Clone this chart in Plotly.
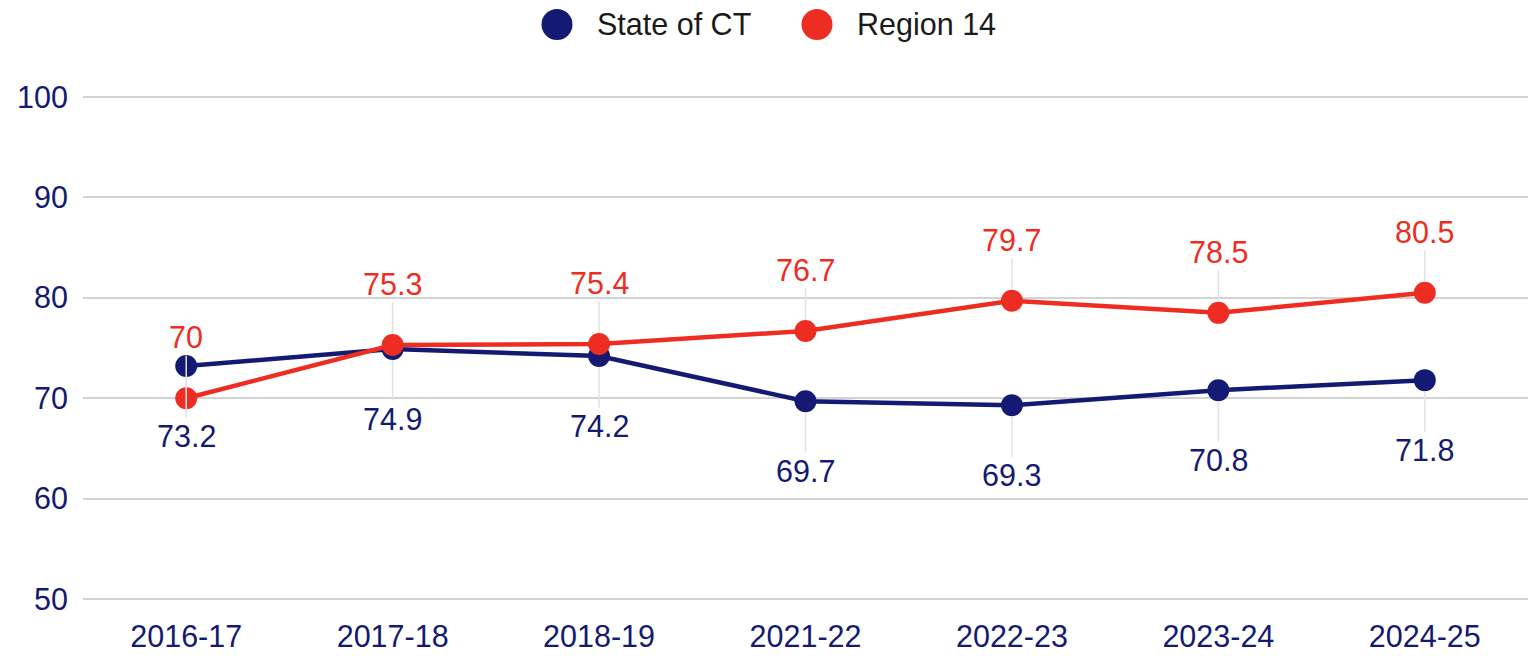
import plotly.graph_objects as go

categories = ["2016-17", "2017-18", "2018-19", "2021-22", "2022-23", "2023-24", "2024-25"]
state_ct = [73.2, 74.9, 74.2, 69.7, 69.3, 70.8, 71.8]
region_14 = [70, 75.3, 75.4, 76.7, 79.7, 78.5, 80.5]
series_names = ["State of CT", "Region 14"]
y_ticks = [50, 60, 70, 80, 90, 100]

NAVY = "#141a73"
RED = "#ee2d22"
FONT = "Liberation Sans, Arial, sans-serif"
FS = 30.5

fig = go.Figure()
fig.add_trace(go.Scatter(x=categories, y=state_ct, name=series_names[0], mode="lines+markers",
                         line=dict(color=NAVY, width=4.5), marker=dict(color=NAVY, size=22),
                         showlegend=False, cliponaxis=False))
fig.add_trace(go.Scatter(x=categories, y=region_14, name=series_names[1], mode="lines+markers",
                         line=dict(color=RED, width=4.5), marker=dict(color=RED, size=22),
                         showlegend=False, cliponaxis=False))

annotations = []
for c, v in zip(categories, region_14):
    annotations.append(dict(x=c, y=v, xref="x", yref="y", text=f"{v:g}", showarrow=True,
                            arrowhead=0, arrowwidth=1.5, arrowcolor="#e2e2e2", ax=0, ay=-61,
                            standoff=11, font=dict(family=FONT, size=FS, color=RED)))
for c, v in zip(categories, state_ct):
    annotations.append(dict(x=c, y=v, xref="x", yref="y", text=f"{v:g}", showarrow=True,
                            arrowhead=0, arrowwidth=1.5, arrowcolor="#e2e2e2", ax=0, ay=70,
                            standoff=11, font=dict(family=FONT, size=FS, color=NAVY)))

# plot area in pixels
L, R, T, B = 83, 3, 95, 52
PW, PH = 1531 - L - R, 656 - T - B

# manual legend
shapes = []
legend_items = [(series_names[0], NAVY, 557, 597), (series_names[1], RED, 817, 857)]
for name, col, cx, tx in legend_items:
    yc = 1 + (T - 24) / PH
    shapes.append(dict(type="circle", xref="paper", yref="paper", xsizemode="pixel", ysizemode="pixel",
                       xanchor=(cx - L) / PW, yanchor=yc,
                       x0=-15.5, x1=15.5, y0=-15.5, y1=15.5, fillcolor=col, line=dict(width=0)))
    annotations.append(dict(x=(tx - L) / PW, y=yc, xref="paper", yref="paper",
                            text=name, showarrow=False, xanchor="left", yanchor="middle",
                            xshift=-2, font=dict(family=FONT, size=FS, color="#1a1a1a")))

fig.update_layout(
    width=1531, height=656,
    margin=dict(l=L, r=R, t=T, b=B),
    paper_bgcolor="white", plot_bgcolor="white",
    showlegend=False,
    annotations=annotations, shapes=shapes,
    font=dict(family=FONT, size=FS, color=NAVY),
)
fig.update_xaxes(type="category", range=[-0.5, 6.5], showgrid=False, showline=False, zeroline=False,
                 tickfont=dict(family=FONT, size=FS, color=NAVY), ticks="", ticklabelstandoff=14)
fig.update_yaxes(range=[49.8, 100.2], tickvals=y_ticks, showgrid=True, gridcolor="#d3d3d3", gridwidth=2,
                 showline=False, zeroline=False, ticks="",
                 tickfont=dict(family=FONT, size=FS, color=NAVY), ticklabelstandoff=14)

fig.write_html("out.html", config={"displayModeBar": False},
               post_script="document.body.style.margin='0';document.body.style.overflow='hidden';")
